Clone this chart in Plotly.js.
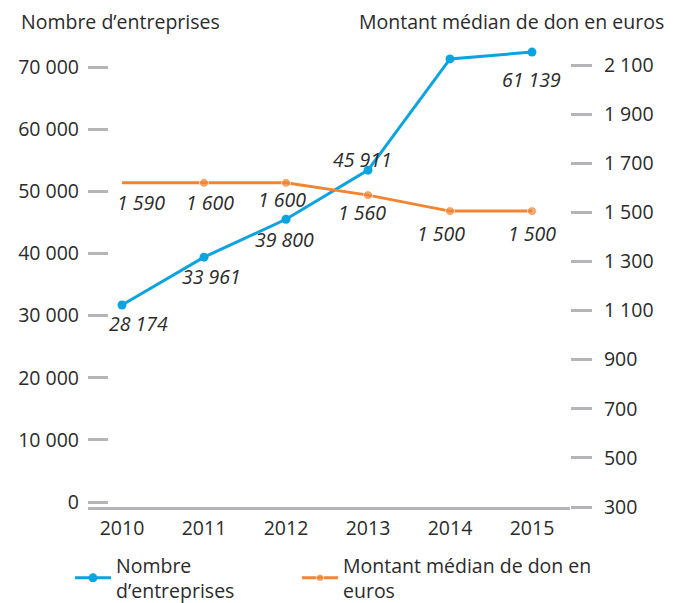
<!DOCTYPE html>
<html>
<head>
<meta charset="utf-8">
<script src="https://cdn.plot.ly/plotly-3.0.1.min.js"></script>
<style>html,body{margin:0;padding:0;background:#fff;}#chart{width:681px;height:603px;}</style>
</head>
<body>
<div id="chart"></div>
<script>
// Categories
const years = [2010, 2011, 2012, 2013, 2014, 2015];
// Series values as drawn in the picture (left axis: number of companies)
const nombreEntreprises = [31700, 39400, 45500, 53400, 71300, 72400];
const nombreLabels = ["28 174", "33 961", "39 800", "45 911", "", "61 139"];
// Right axis: median donation in euros
const montantMedian = [1620, 1620, 1620, 1570, 1505, 1505];
const montantLabels = ["1 590", "1 600", "1 600", "1 560", "1 500", "1 500"];
// Tick values
const leftTicks = [0, 10000, 20000, 30000, 40000, 50000, 60000, 70000];
const rightTicks = [300, 500, 700, 900, 1100, 1300, 1500, 1700, 1900, 2100];

// Label placement relative to each point (px)
const nombreShift = [[16, -18], [7, -19], [-2, -20], [-6, 11], [0, 0], [-1, -27]];
const montantShift = [[19, -20], [6, -20], [-4, -17], [-6, -17], [-9, -22], [0, -22]];

const FONT = "Open Sans, Lato, sans-serif";
const FS = 19.5;
const BLUE = "#0ba3e0";
const ORANGE = "#f28432";
const GREY = "#b4b4b9";
const TXT = "#2b2b2b";

const traceDon = {
  x: years, y: montantMedian, yaxis: "y2", type: "scatter", mode: "lines+markers",
  name: "Montant médian de don en<br>euros", legend: "legend2",
  line: {color: ORANGE, width: 3},
  marker: {color: ORANGE, size: [0, 9, 9, 9, 9, 9]},
  hoverinfo: "skip"
};
const traceNombre = {
  x: years, y: nombreEntreprises, yaxis: "y", type: "scatter", mode: "lines+markers",
  name: "Nombre<br>d’entreprises", legend: "legend",
  line: {color: BLUE, width: 3},
  marker: {color: BLUE, size: 9},
  hoverinfo: "skip"
};

const labelFont = {family: FONT, size: FS, color: TXT, style: "italic"};
const annotations = [];
years.forEach((yr, i) => {
  if (nombreLabels[i]) annotations.push({
    x: yr, y: nombreEntreprises[i], xref: "x", yref: "y", text: nombreLabels[i],
    showarrow: false, xshift: nombreShift[i][0], yshift: nombreShift[i][1], font: labelFont
  });
  if (montantLabels[i]) annotations.push({
    x: yr, y: montantMedian[i], xref: "x", yref: "y2", text: montantLabels[i],
    showarrow: false, xshift: montantShift[i][0], yshift: montantShift[i][1], font: labelFont
  });
});

const L = 88, R = 570, T = 40, B = 507;
const W = 681, H = 603;
const pw = R - L, ph = B - T;

annotations.push(
  {text: "Nombre d’entreprises", xref: "paper", yref: "paper",
   x: (19 - L) / pw, xanchor: "left", y: (B - 22) / ph, yanchor: "middle",
   showarrow: false, font: {family: FONT, size: FS, color: TXT}},
  {text: "Montant médian de don en euros", xref: "paper", yref: "paper",
   x: (666 - L) / pw, xanchor: "right", y: (B - 22) / ph, yanchor: "middle",
   showarrow: false, font: {family: FONT, size: FS, color: TXT}}
);

const legendBase = {
  orientation: "h", xref: "container", yref: "container",
  xanchor: "left", y: 1 - 546 / H, yanchor: "top",
  itemwidth: 36,
  font: {family: FONT, size: FS, color: TXT},
  bgcolor: "rgba(0,0,0,0)"
};

const layout = {
  width: W, height: H,
  margin: {l: L, r: W - R, t: T, b: H - B, pad: 0, autoexpand: false},
  paper_bgcolor: "#fff", plot_bgcolor: "#fff",
  font: {family: FONT, size: FS, color: TXT},
  separators: ", ",
  showlegend: true,
  xaxis: {
    range: [2010 - 34 / 82, 2010 - 34 / 82 + pw / 82],
    tickvals: years, ticktext: years.map(String),
    showgrid: false, zeroline: false,
    showline: true, linecolor: GREY, linewidth: 3,
    ticks: "", ticklabelstandoff: 2,
    tickfont: {family: FONT, size: FS, color: TXT}
  },
  yaxis: {
    range: [-5 / (435 / 70000), (502 - T) / (435 / 70000)],
    tickvals: leftTicks, tickformat: ",d",
    showgrid: false, zeroline: false, showline: false,
    ticks: "inside", ticklen: 20, tickwidth: 3, tickcolor: GREY,
    ticklabelstandoff: 8,
    tickfont: {family: FONT, size: FS, color: TXT}
  },
  yaxis2: {
    overlaying: "y", side: "right",
    range: [300, 300 + ph / (442 / 1800)],
    tickvals: rightTicks, tickformat: ",d",
    showgrid: false, zeroline: false, showline: false,
    ticks: "outside", ticklen: 21, tickwidth: 3, tickcolor: GREY,
    ticklabelstandoff: 8,
    tickfont: {family: FONT, size: FS, color: TXT}
  },
  legend: Object.assign({}, legendBase, {x: 70 / W}),
  legend2: Object.assign({}, legendBase, {x: 297 / W}),
  annotations: annotations
};

Plotly.newPlot("chart", [traceDon, traceNombre], layout, {displayModeBar: false, staticPlot: true});
</script>
</body>
</html>
